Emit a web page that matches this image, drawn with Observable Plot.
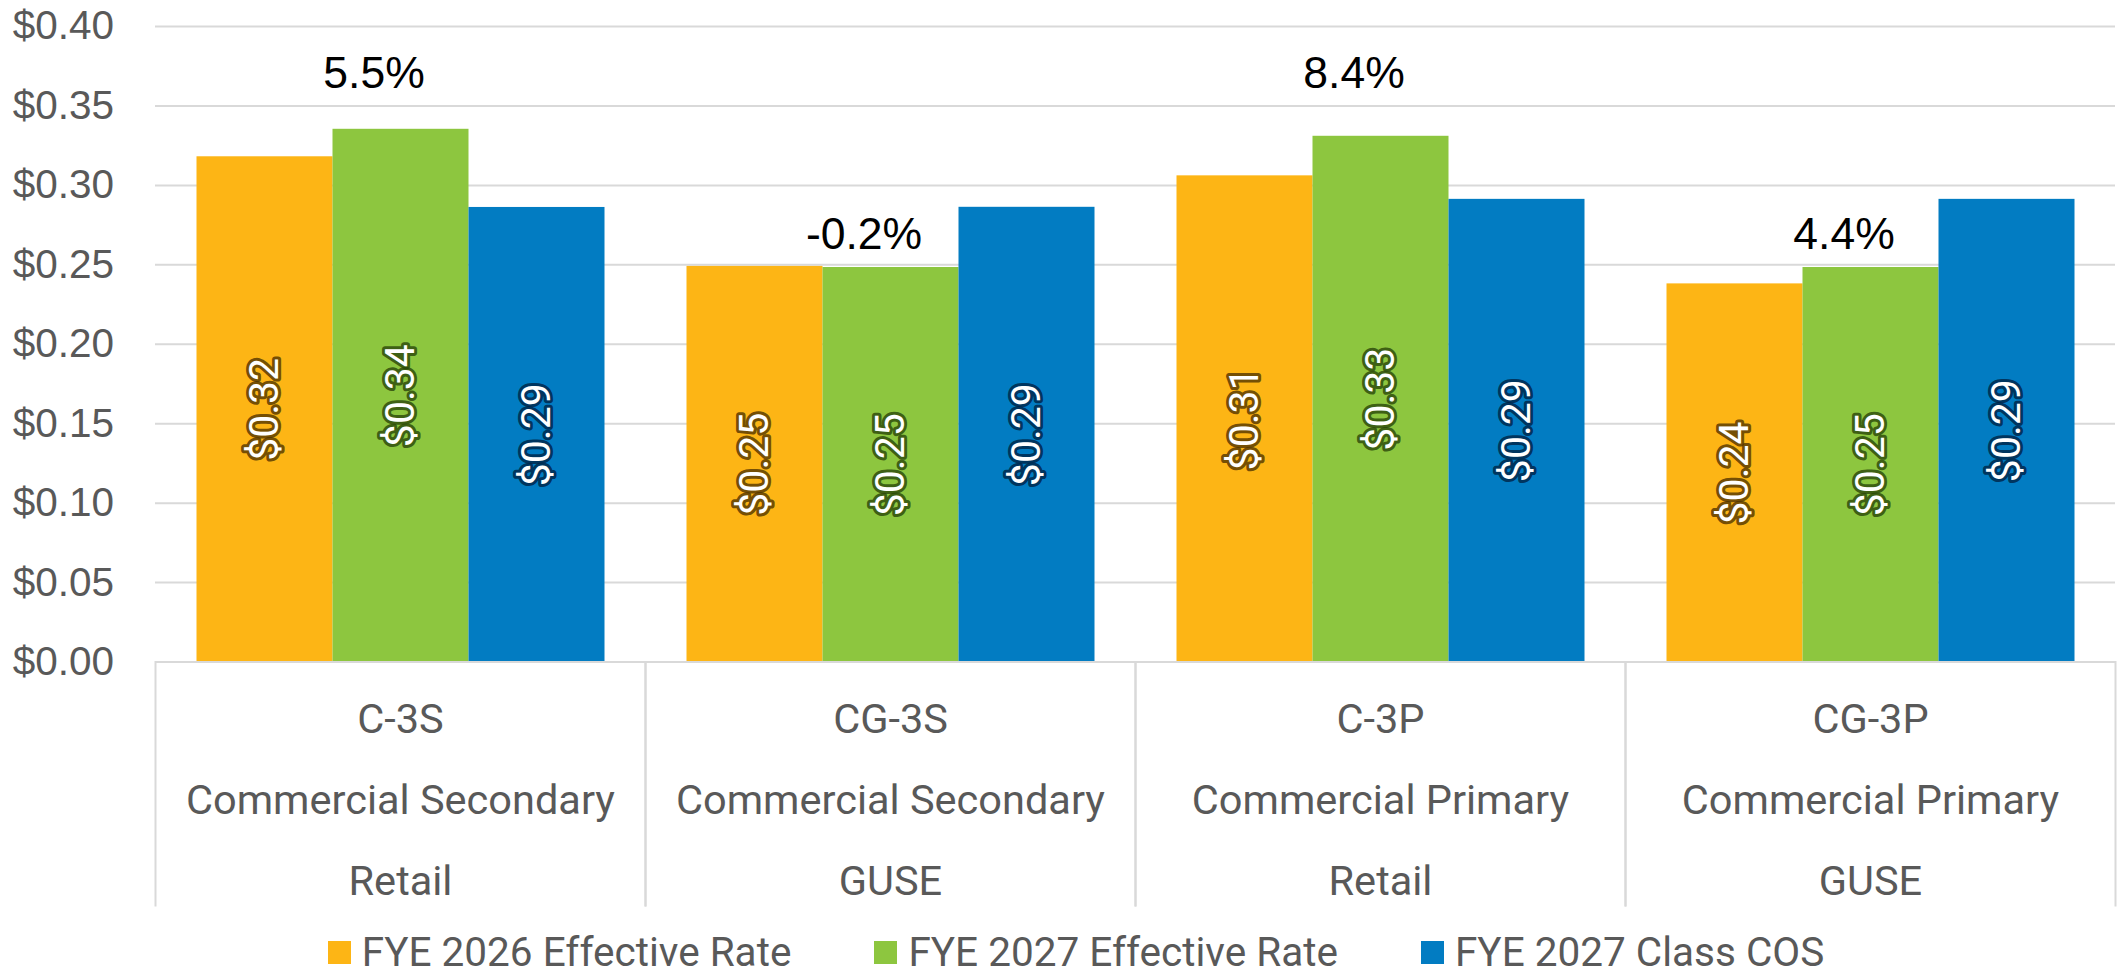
<!DOCTYPE html>
<html>
<head>
<meta charset="utf-8">
<script src="https://cdn.jsdelivr.net/npm/d3@7"></script>
<script src="https://cdn.jsdelivr.net/npm/@observablehq/plot@0.6"></script>
<style>
  html, body { margin: 0; padding: 0; background: #ffffff; overflow: hidden; }
  #chart svg { display: block; }
  #legend {
    display: flex; justify-content: center; align-items: center;
    height: 64px; padding-left: 34px; box-sizing: border-box; width: 2118px;
    font-family: Roboto, "Liberation Sans", Arial, sans-serif; font-size: 40.5px; color: #595959;
  }
  .item { display: flex; align-items: center; margin-right: 83px; white-space: nowrap; }
  .item:last-child { margin-right: 0; }
  .sw { width: 23px; height: 23px; margin-right: 11px; flex: none; }
</style>
</head>
<body>
<div id="chart"></div>
<div id="legend"></div>
<script>
// ---- data ----
const categories = ["C-3S", "CG-3S", "C-3P", "CG-3P"];
const categoryLine2 = ["Commercial Secondary", "Commercial Secondary", "Commercial Primary", "Commercial Primary"];
const categoryLine3 = ["Retail", "GUSE", "Retail", "GUSE"];
const series = ["FYE 2026 Effective Rate", "FYE 2027 Effective Rate", "FYE 2027 Class COS"];
const fye2026Rate = [0.318, 0.249, 0.306, 0.238];
const fye2027Rate = [0.3353, 0.2483, 0.3309, 0.2483];
const fye2027ClassCOS = [0.2861, 0.2862, 0.2912, 0.2912];
const pctChange = ["5.5%", "-0.2%", "8.4%", "4.4%"];
const pctLabelAt = [0.370, 0.269, 0.370, 0.269];
const yTicks = [0, 0.05, 0.10, 0.15, 0.20, 0.25, 0.30, 0.35, 0.40];

// ---- styles ----
const colors = ["#FDB515", "#8DC63F", "#027CC2"];
const halos = ["#4f3300", "#284409", "#002244"];
const gray = "#595959";
const grid = "#D9D9D9";
const arial = "'Liberation Sans', Arial, sans-serif";
const roboto = "Roboto, 'Liberation Sans', Arial, sans-serif";
const fmt = d3.format("$.2f");

const seriesValues = [fye2026Rate, fye2027Rate, fye2027ClassCOS];
const rows = categories.flatMap((c, i) => series.map((s, j) => ({cat: c, series: s, si: j, value: seriesValues[j][i]})));
const pctRows = categories.map((c, i) => ({cat: c, label: pctChange[i], at: pctLabelAt[i]}));
const catLabel = Object.fromEntries(categories.map((c, i) => [c, [c, categoryLine2[i], categoryLine3[i]].join("\n")]));

const H = 920, TOP = 26, ZERO = 661.5, SEP_BOTTOM = 905;

const chart = Plot.plot({
  width: 2118,
  height: H,
  marginTop: TOP,
  marginBottom: H - ZERO,
  marginLeft: 154.5,
  marginRight: 3.5,
  style: {background: "#ffffff", fontFamily: arial, overflow: "visible"},
  fx: {domain: categories, padding: 0, label: null},
  x: {domain: series, paddingInner: 0, paddingOuter: 0.3, axis: null},
  y: {domain: [0, 0.4], axis: null},
  color: {domain: series, range: colors},
  marks: [
    Plot.gridY(yTicks, {stroke: grid, strokeOpacity: 1, strokeWidth: 2}),
    Plot.axisY(yTicks, {
      tickFormat: fmt, tickSize: 0, tickPadding: 41.5, fontSize: 40.5, fill: gray,
      fontFamily: arial, label: null
    }),
    Plot.barY(rows, {fx: "cat", x: "series", y: "value", fill: "series", inset: 0}),
    ...series.map((s, j) => Plot.text(rows.filter(d => d.si === j), {
      fx: "cat", x: "series", y: d => d.value / 2, text: d => fmt(d.value),
      rotate: -90, fill: "white", stroke: halos[j], strokeWidth: 6, strokeOpacity: 0.8,
      strokeLinejoin: "round", fontSize: 41, fontFamily: roboto
    })),
    Plot.text(pctRows, {
      fx: "cat", x: () => series[1], y: "at", text: "label", dx: -27,
      fill: "black", fontSize: 44.5, fontFamily: arial
    }),
    Plot.ruleY([0], {stroke: grid, strokeWidth: 2}),
    Plot.frame({anchor: "left", stroke: grid, strokeWidth: 2, insetTop: ZERO - TOP, insetBottom: -(SEP_BOTTOM - ZERO)}),
    Plot.frame({anchor: "right", stroke: grid, strokeWidth: 2, insetTop: ZERO - TOP, insetBottom: -(SEP_BOTTOM - ZERO)}),
    Plot.axisFx({
      anchor: "bottom", tickSize: 0, tickPadding: 14, label: null,
      tickFormat: c => catLabel[c], fontSize: 41.5, lineHeight: 1.947,
      fontFamily: roboto, fill: gray
    })
  ]
});
document.getElementById("chart").appendChild(chart);

// ---- legend ----
const legend = document.getElementById("legend");
series.forEach((s, j) => {
  const item = document.createElement("div");
  item.className = "item";
  const sw = document.createElement("span");
  sw.className = "sw";
  sw.style.background = colors[j];
  const t = document.createElement("span");
  t.textContent = s;
  item.appendChild(sw);
  item.appendChild(t);
  legend.appendChild(item);
});
</script>
</body>
</html>
